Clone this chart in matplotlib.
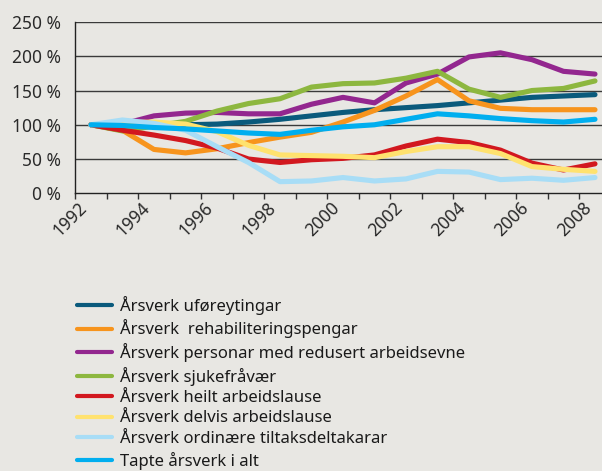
import matplotlib
matplotlib.use("Agg")
import matplotlib.pyplot as plt
from matplotlib.lines import Line2D

years = list(range(1992, 2009))
tick_labels = [str(y) if (y - 1992) % 2 == 0 else "" for y in years]

labels = [
    "Årsverk uføreytingar",
    "Årsverk  rehabiliteringspengar",
    "Årsverk personar med redusert arbeidsevne",
    "Årsverk sjukefråvær",
    "Årsverk heilt arbeidslause",
    "Årsverk delvis arbeidslause",
    "Årsverk ordinære tiltaksdeltakarar",
    "Tapte årsverk i alt",
]

uforeytingar = [100, 100, 100, 100, 101, 104, 108, 113, 118, 122, 125, 128, 132, 136, 140, 142, 144]
rehabilitering = [100, 92, 64, 59, 65, 74, 82, 89, 104, 121, 142, 166, 135, 124, 122, 122, 122]
redusert = [100, 101, 113, 117, 118, 116, 116, 130, 140, 132, 161, 174, 199, 205, 195, 178, 174]
sjukefravaer = [100, 91, 98, 105, 120, 131, 138, 155, 160, 161, 168, 178, 152, 140, 150, 153, 164]
heilt = [100, 92, 85, 77, 66, 50, 45, 49, 51, 56, 69, 79, 74, 63, 44, 34, 43]
delvis = [100, 103, 104, 101, 90, 70, 56, 55, 54, 52, 61, 68, 68, 58, 39, 35, 32]
tiltak = [100, 107, 102, 92, 68, 45, 17, 18, 23, 18, 21, 32, 31, 20, 22, 19, 23]
tapte = [100, 99, 96, 94, 91, 88, 86, 92, 97, 100, 108, 116, 113, 109, 106, 104, 108]

series = [uforeytingar, rehabilitering, redusert, sjukefravaer, heilt, delvis, tiltak, tapte]
colors = ["#0a5a7c", "#f7941d", "#93278f", "#8db73f", "#d2181f", "#ffe26f", "#a8ddf6", "#00aeef"]

bg = "#e8e7e3"
plt.rcParams['font.family'] = ['Noto Sans', 'DejaVu Sans']

fig = plt.figure(figsize=(6.02, 4.71), dpi=100, facecolor=bg)
ax = fig.add_axes([0.125, 0.5896, 0.8895, 0.3637], facecolor=bg)

x = list(range(len(years)))
for vals, c in zip(series, colors):
    ax.plot(x, vals, color=c, lw=3.7, solid_capstyle='round', solid_joinstyle='round', zorder=3)

ax.set_xlim(-0.5, 16.5)
ax.set_ylim(0, 250)
ax.set_yticks([0, 50, 100, 150, 200, 250])
ax.set_yticklabels(["0 %", "50 %", "100 %", "150 %", "200 %", "250 %"])
for yv in [50, 100, 150, 200, 250]:
    ax.axhline(yv, color="#3a3a3a", lw=1.0, zorder=1)

ax.set_xticks([i - 0.5 for i in range(len(years) + 1)])
ax.set_xticklabels([])
ax.set_xticks(x, minor=True)
ax.set_xticklabels(tick_labels, minor=True, rotation=45, ha='right', va='top', fontsize=12.5, color="#2a2a2a")
ax.tick_params(axis='x', which='major', length=4, width=1, color="#333333", direction='out')
ax.tick_params(axis='x', which='minor', length=0, pad=4)
ax.tick_params(axis='y', length=0, pad=10, labelsize=12.5, labelcolor="#2a2a2a")

for s in ['top', 'right']:
    ax.spines[s].set_visible(False)
for s in ['left', 'bottom']:
    ax.spines[s].set_color("#222222")
    ax.spines[s].set_linewidth(1.0)

handles = [Line2D([0], [0], color=c, lw=3.0, solid_capstyle='round') for c in colors]
fig.legend(handles, labels, loc='upper left', bbox_to_anchor=(0.128, 1 - 296 / 471),
           frameon=False, fontsize=12, handlelength=2.1, handletextpad=0.48,
           labelspacing=0.27, borderpad=0, borderaxespad=0, labelcolor="#1a1a1a")

fig.savefig("out.png", dpi=100, facecolor=bg)
